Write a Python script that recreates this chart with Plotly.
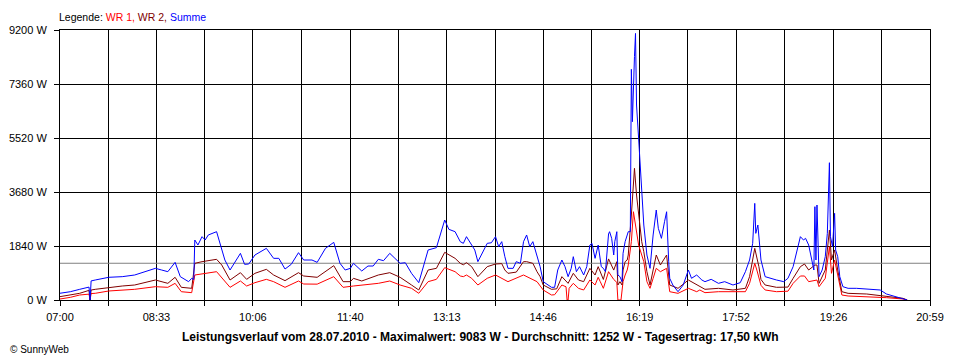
import plotly.graph_objects as go

# ---------------- data ----------------
TICK_LABELS = ["07:00", "08:33", "10:06", "11:40", "13:13", "14:46", "16:19", "17:52", "19:26", "20:59"]
Y_TICKS = [0, 1840, 3680, 5520, 7360, 9200]
AVG_W = 1252

SUM_TIME = ["07:00", "07:10", "07:19", "07:27", "07:28", "07:29", "07:30", "07:34", "07:47", "08:00",
            "08:12", "08:22", "08:32", "08:38", "08:44", "08:51", "08:56", "09:04", "09:07", "09:09",
            "09:10", "09:13", "09:17", "09:20", "09:23", "09:31", "09:34", "09:39", "09:44", "09:49",
            "09:54", "09:58", "10:02", "10:08", "10:19", "10:26", "10:31", "10:37", "10:43", "10:50",
            "10:55", "11:03", "11:08", "11:16", "11:24", "11:30", "11:35", "11:40", "11:43", "11:51",
            "11:57", "12:02", "12:07", "12:12", "12:18", "12:23", "12:28", "12:33", "12:39", "12:46",
            "12:50", "12:55", "13:03", "13:07", "13:11", "13:15", "13:21", "13:26", "13:29", "13:32",
            "13:37", "13:40", "13:43", "13:47", "13:52", "13:56", "14:00", "14:03", "14:06", "14:09",
            "14:12", "14:17", "14:20", "14:24", "14:27", "14:30", "14:33", "14:36", "14:40", "14:43",
            "14:46", "14:51", "14:54", "14:57", "15:00", "15:04", "15:07", "15:10", "15:13", "15:15",
            "15:18", "15:21", "15:25", "15:28", "15:31", "15:33", "15:36", "15:39", "15:42", "15:44",
            "15:46", "15:49", "15:50", "15:52", "15:54", "15:55", "15:57", "15:58", "16:00", "16:02",
            "16:03", "16:05", "16:07", "16:08", "16:10", "16:11", "16:12", "16:13", "16:14", "16:15",
            "16:16", "16:18", "16:19", "16:21", "16:23", "16:26", "16:29", "16:32", "16:35", "16:37",
            "16:40", "16:43", "16:45", "16:47", "16:48", "16:51", "16:56", "17:01", "17:06", "17:09",
            "17:14", "17:19", "17:22", "17:28", "17:35", "17:41", "17:49", "17:56", "18:01", "18:05",
            "18:08", "18:10", "18:11", "18:13", "18:14", "18:16", "18:20", "18:25", "18:31", "18:38",
            "18:42", "18:47", "18:51", "18:54", "18:57", "18:59", "19:02", "19:05", "19:07", "19:08",
            "19:09", "19:10", "19:12", "19:15", "19:18", "19:20", "19:22", "19:23", "19:25", "19:27",
            "19:28", "19:30", "19:32", "19:35", "19:40", "19:48", "19:58", "20:11", "20:17", "20:27",
            "20:33", "20:37"]
SUM_W = [230, 283, 364, 432, 440, 0, 650, 681, 773, 795,
         852, 965, 1079, 1022, 965, 1283, 795, 625, 738, 700,
         2044, 1874, 2158, 2044, 2215, 2328, 1931, 1363, 1022, 1306,
         1590, 1215, 1226, 1533, 1760, 1420, 1420, 1056, 1215, 1613,
         1363, 1363, 1283, 1760, 1964, 1250, 1022, 1079, 1250, 988,
         1158, 1158, 1386, 1340, 1590, 1420, 1250, 1270, 909, 590,
         1079, 1704, 1783, 2271, 2726, 2408, 2328, 1988, 1931, 2158,
         1874, 1704, 1306, 1590, 1931, 1950, 2158, 1817, 1988, 1476,
         1079, 1079, 1306, 1250, 1988, 2215, 1817, 1988, 1476, 1136,
         625, 511, 432, 432, 1022, 1363, 1136, 795, 1079, 1476,
         965, 1136, 852, 1136, 1874, 1931, 1420, 1874, 1136, 1079,
         965, 2250, 2328, 2101, 1533, 1988, 2328, 852, 795, 625,
         1590, 1988, 2271, 2328, 2328, 7860, 6075, 7440, 8300, 9083,
         6644, 5510, 4940, 3690, 2555, 1533, 1079, 2215, 3066, 2443,
         2101, 2668, 3008, 1306, 739, 511, 283, 511, 1022, 739,
         852, 681, 625, 704, 568, 625, 511, 590, 965, 1363,
         1931, 3293, 2271, 2555, 2044, 1363, 795, 739, 681, 625,
         739, 1136, 1704, 2158, 2044, 2101, 1874, 1363, 1022, 3180,
         1363, 3237, 795, 1022, 1476, 2271, 4678, 2158, 1817, 2953,
         1704, 1476, 795, 454, 398, 398, 364, 341, 204, 114,
         57, 0]

WR2_TIME = ["07:00", "07:10", "07:19", "07:27", "07:28", "07:29", "07:30", "07:34", "07:47", "08:00",
            "08:12", "08:32", "08:44", "08:51", "08:57", "09:07", "09:10", "09:17", "09:31", "09:36",
            "09:44", "09:54", "10:00", "10:08", "10:19", "10:26", "10:37", "10:50", "10:55", "11:08",
            "11:24", "11:33", "11:40", "11:43", "11:51", "12:07", "12:18", "12:28", "12:39", "12:46",
            "12:55", "13:03", "13:11", "13:21", "13:26", "13:29", "13:32", "13:37", "13:43", "13:52",
            "14:00", "14:06", "14:09", "14:12", "14:20", "14:27", "14:30", "14:36", "14:40", "14:43",
            "14:46", "14:54", "14:59", "15:04", "15:10", "15:15", "15:20", "15:25", "15:31", "15:36",
            "15:39", "15:41", "15:44", "15:49", "15:54", "15:57", "15:58", "16:00", "16:02", "16:03",
            "16:05", "16:07", "16:08", "16:11", "16:13", "16:14", "16:16", "16:18", "16:19", "16:21",
            "16:23", "16:26", "16:29", "16:32", "16:35", "16:39", "16:43", "16:45", "16:48", "16:56",
            "17:06", "17:14", "17:17", "17:22", "17:35", "17:49", "18:01", "18:05", "18:10", "18:12",
            "18:14", "18:16", "18:20", "18:31", "18:42", "18:47", "18:54", "18:58", "19:02", "19:08",
            "19:10", "19:12", "19:18", "19:22", "19:24", "19:27", "19:30", "19:34", "19:40", "19:58",
            "20:17", "20:33", "20:37"]
WR2_W = [114, 170, 228, 318, 320, 0, 340, 364, 432, 477,
         511, 681, 568, 773, 432, 398, 1250, 1306, 1386, 1192,
         681, 931, 704, 909, 1045, 852, 659, 931, 818, 773,
         1170, 625, 625, 738, 647, 852, 931, 773, 511, 341,
         1022, 1079, 1624, 1420, 1250, 1200, 1272, 1136, 795, 1136,
         1226, 1240, 1022, 909, 950, 1306, 1306, 1250, 965, 795,
         511, 364, 380, 795, 568, 909, 681, 625, 1079, 852,
         1136, 965, 700, 1400, 1020, 1306, 511, 625, 511, 1022,
         1306, 1363, 1533, 2896, 4030, 4487, 3577, 2896, 2668, 1988,
         1646, 965, 511, 1079, 1533, 1192, 1420, 1533, 511, 398,
         681, 511, 454, 364, 398, 341, 398, 795, 1760, 1476,
         1136, 700, 511, 432, 440, 739, 1136, 1226, 1022, 1192,
         1192, 568, 1022, 2385, 1363, 1704, 1022, 283, 227, 204,
         136, 57, 0]

WR1_TIME = ["07:00", "07:10", "07:19", "07:28", "07:29", "07:30", "07:34", "07:47", "08:12", "08:32",
            "08:44", "08:51", "08:57", "09:07", "09:10", "09:31", "09:44", "09:54", "10:00", "10:08",
            "10:19", "10:26", "10:37", "10:50", "10:55", "11:08", "11:24", "11:33", "11:43", "12:07",
            "12:18", "12:28", "12:39", "12:46", "12:55", "13:03", "13:11", "13:21", "13:26", "13:29",
            "13:32", "13:37", "13:43", "13:52", "14:00", "14:09", "14:12", "14:27", "14:40", "14:46",
            "14:54", "14:57", "15:04", "15:08", "15:09", "15:10", "15:11", "15:15", "15:20", "15:25",
            "15:31", "15:36", "15:39", "15:41", "15:44", "15:49", "15:54", "15:57", "15:58", "16:01",
            "16:02", "16:03", "16:05", "16:07", "16:08", "16:11", "16:13", "16:14", "16:16", "16:18",
            "16:21", "16:23", "16:26", "16:29", "16:32", "16:35", "16:39", "16:45", "16:48", "16:56",
            "17:06", "17:14", "17:17", "17:22", "17:35", "17:49", "18:01", "18:05", "18:10", "18:12",
            "18:14", "18:16", "18:20", "18:31", "18:42", "18:47", "18:54", "18:58", "19:02", "19:08",
            "19:10", "19:12", "19:18", "19:22", "19:24", "19:27", "19:30", "19:34", "19:40", "19:58",
            "20:17", "20:33", "20:37"]
WR1_W = [34, 91, 170, 200, 0, 220, 228, 307, 364, 454,
         432, 568, 283, 250, 852, 965, 432, 647, 477, 590,
         704, 625, 432, 647, 545, 540, 795, 432, 477, 568,
         647, 511, 398, 228, 625, 704, 1102, 965, 818, 795,
         852, 739, 511, 739, 852, 681, 625, 852, 625, 341,
         170, 180, 511, 450, 0, 0, 398, 568, 398, 341,
         681, 511, 773, 625, 398, 965, 700, 600, 0, 0,
         398, 625, 852, 1022, 1192, 1988, 3008, 2783, 2328, 1874,
         1533, 1306, 625, 398, 739, 1079, 965, 1079, 283, 227,
         398, 283, 341, 250, 283, 283, 283, 568, 1250, 1022,
         795, 500, 341, 283, 300, 568, 818, 818, 625, 681,
         681, 454, 739, 1817, 909, 1363, 852, 170, 136, 114,
         79, 34, 0]

TITLE = "Leistungsverlauf vom 28.07.2010 - Maximalwert: 9083 W - Durchschnitt: 1252 W - Tagesertrag: 17,50 kWh"


def to_min(t):
    h, m = t.split(":")
    return (int(h) - 7) * 60 + int(m)


FONT = "Liberation Sans, Arial, sans-serif"

major = [to_min(t) for t in TICK_LABELS]

fig = go.Figure()
# average line (drawn first, under the data lines)
fig.add_trace(go.Scatter(x=[major[0], major[-1]], y=[AVG_W, AVG_W], mode="lines",
                         line=dict(color="#808080", width=1), name="Durchschnitt"))
fig.add_trace(go.Scatter(x=[to_min(t) for t in WR1_TIME], y=WR1_W, mode="lines",
                         line=dict(color="#ff0000", width=1), name="WR 1"))
fig.add_trace(go.Scatter(x=[to_min(t) for t in WR2_TIME], y=WR2_W, mode="lines",
                         line=dict(color="#800000", width=1), name="WR 2"))
fig.add_trace(go.Scatter(x=[to_min(t) for t in SUM_TIME], y=SUM_W, mode="lines",
                         line=dict(color="#0000ff", width=1), name="Summe"))

tickvals, ticktext = [], []
for i, v in enumerate(major):
    tickvals.append(v)
    ticktext.append(TICK_LABELS[i])
    if i + 1 < len(major):
        tickvals.append((v + major[i + 1]) / 2)
        ticktext.append("")

fig.update_xaxes(range=[major[0], major[-1]], tickmode="array", tickvals=tickvals, ticktext=ticktext,
                 showgrid=True, gridcolor="black", gridwidth=1, zeroline=False,
                 showline=True, linecolor="black", linewidth=1, mirror=True,
                 ticks="outside", ticklen=5, tickcolor="black", tickwidth=1,
                 ticklabelstandoff=2, automargin=False,
                 tickfont=dict(family=FONT, size=11, color="black"))
fig.update_yaxes(range=[0, 9200], tickmode="array", tickvals=Y_TICKS,
                 ticktext=[f"{v} W" for v in Y_TICKS],
                 showgrid=True, gridcolor="black", gridwidth=1, zeroline=False,
                 showline=True, linecolor="black", linewidth=1, mirror=True,
                 ticks="outside", ticklen=5, tickcolor="black", tickwidth=1,
                 ticklabelstandoff=5, automargin=False,
                 tickfont=dict(family=FONT, size=11, color="black"))

fig.add_annotation(xref="paper", yref="paper", x=0, y=1.048, xanchor="left", yanchor="middle",
                   xshift=-3, showarrow=False, font=dict(family=FONT, size=10.5, color="black"),
                   text="Legende: <span style='color:#ff0000'>WR 1,</span> "
                        "<span style='color:#800000'>WR 2,</span> "
                        "<span style='color:#0000ff'>Summe</span>")
fig.add_annotation(xref="paper", yref="paper", x=0.4828, y=-0.137, xanchor="center", yanchor="middle",
                   showarrow=False, font=dict(family=FONT, size=12, color="black"),
                   text="<b>" + TITLE + "</b>")
fig.add_annotation(xref="paper", yref="paper", x=-0.0595, y=-0.1815, xanchor="left", yanchor="middle",
                   showarrow=False, font=dict(family=FONT, size=10, color="black"),
                   text="© SunnyWeb")

# page body has an 8px margin: shift the figure so the plot lands where the reference has it
fig.update_layout(width=952, height=352, margin=dict(l=52, r=30, t=22, b=60, autoexpand=False),
                  paper_bgcolor="white", plot_bgcolor="white", showlegend=False,
                  hovermode=False)

fig.write_html("out.html")
